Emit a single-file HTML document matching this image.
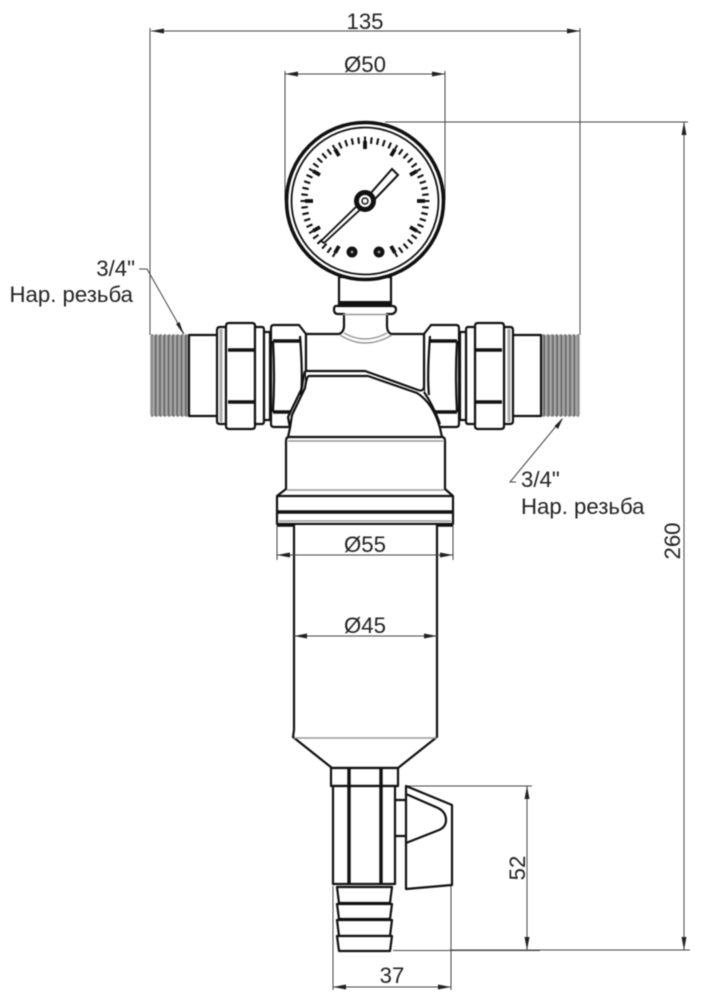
<!DOCTYPE html>
<html><head><meta charset="utf-8"><style>
html,body{margin:0;padding:0;background:#fff}
svg{display:block;filter:blur(.45px)}
text{font-family:"Liberation Sans",sans-serif;font-size:22.2px;fill:#222}
.k{fill:#fff;stroke:#111;stroke-width:2.2;stroke-linejoin:round}
.l{fill:none;stroke:#111;stroke-width:2.2;stroke-linejoin:round}
.t{fill:none;stroke:#111;stroke-width:3.4}
.g{fill:none;stroke:#999;stroke-width:1.4}
.d{fill:none;stroke:#444;stroke-width:1}
.a{fill:#222;stroke:none}
</style></head><body>
<svg width="706" height="1000" viewBox="0 0 706 1000" xmlns="http://www.w3.org/2000/svg">
<defs>
<pattern id="th" width="4.3" height="10" patternUnits="userSpaceOnUse"><rect width="4.3" height="10" fill="#a6a6a6"/><rect x="0" width="1.7" height="10" fill="#666"/></pattern>
<line id="m" x1="365" y1="137" x2="365" y2="143.500" stroke="#111" stroke-width="2.100"/>
<g id="M"><line x1="365" y1="136.500" x2="365" y2="141" stroke="#111" stroke-width="2"/><line x1="365" y1="141" x2="365" y2="149" stroke="#111" stroke-width="3.800"/></g>
<g id="half">
<!-- thread -->
<rect x="151" y="335" width="37" height="81" fill="url(#th)"/>
<path d="M151 335H188M151 416H188" stroke="#777" stroke-width="1.600" stroke-dasharray="2 2.300" fill="none"/>
<path d="M151 336V415" stroke="#999" stroke-width="1.500"/>
<!-- pipe -->
<path class="l" d="M217 335H189V416H217"/>
<!-- washer -->
<path class="k" d="M220 327H226V424H220Q217 424 217 421V330Q217 327 220 327Z"/>
<path d="M221 329V422" stroke="#aaa" stroke-width="3"/>
<!-- union nut -->
<path class="k" d="M229 323H252Q255 323 255 326V426Q255 429 252 429H229Q226 429 226 426V326Q226 323 229 323Z" stroke-width="2.600"/>
<path class="t" d="M228 350H254M228 402H254" stroke-width="3"/>
<path class="k" d="M255 327H262Q264 327 264 330V421Q264 424 262 424H255Z"/>
<path class="k" d="M264 332H270V420H264Z"/>
<!-- second nut -->
<path class="k" d="M274 325H299L306 334V427H274Q271 427 271 424V328Q271 325 274 325Z"/>
<path class="t" d="M273 341H300M273 412H300" stroke-width="2.600"/>
<path d="M273 412H300" stroke="#111" stroke-width="1"/>
<path class="l" d="M273 341Q275 376 273 412" stroke-width="1.800"/>
<path class="l" d="M300 336Q303 376 301 395" stroke-width="1.800"/>
</g>
</defs>

<!-- dimension lines (behind the product) -->
<path class="d" d="M150 28V335M580 28V335M151 31H580M285 71V200M445 71V200M285 74H445M385 122H688M684 122V950M450 950H690M407 786H532M527 786V950M333 886V990M451 886V990M333 987H451"/>
<path class="d" d="M393 950.500H540" stroke-width="1.200"/>
<path class="a" d="M151 31l13-2.500v5zM580 31l-13-2.500v5zM285 74l13-2.500v5zM445 74l-13-2.500v5zM684 122l-2.500 13h5zM684 950l-2.500-13h5zM527 786l-2.500 13h5zM527 950l-2.500-13h5zM333 987l13-2.500v5zM451 987l-13-2.500v5z"/>

<!-- fittings -->
<use href="#half"/>
<use href="#half" transform="matrix(-1 0 0 1 730 0)"/>

<!-- stem -->
<path class="k" d="M339 277V305H391V277Z"/>
<path d="M339 303.500H392" stroke="#111" stroke-width="5"/>
<!-- tee body -->
<path fill="#fff" d="M306 334H424V372H306Z"/>
<path fill="#fff" d="M306 370V388L288 417L290 428L288 437H442L440 428Q430 400 424 391V370Z"/>
<path class="l" d="M306 334H339Q344 332 344 326V314H387V326Q387 332 391 334H424"/>
<path class="k" d="M338 306H392Q396 306 396 309.500T392 314H338Q334 314 334 309.500T338 306Z"/>
<path fill="#fff" d="M345 312H386V318H345Z"/>
<path d="M343 314.500H388" stroke="#999" stroke-width="1.400"/>
<path class="g" d="M340 335Q365 351 392 335"/>
<path class="g" d="M344 333Q365 345 387 333" stroke-width="1"/>
<path class="l" d="M306 334V371M424 334V386"/>
<!-- rib -->
<path class="l" d="M305 371H365L418 390Q424 392 424 386"/>
<path class="l" d="M308 376H368L417 393Q433 403 440 428L442 437"/>
<path class="l" d="M424 392Q433 405 440 424" stroke-width="1.800"/>
<path class="l" d="M305 371Q303 378 302 388L288 417L290 428L288 437"/>
<path class="l" d="M308 376Q306 380 305 388L292 415L290 428" stroke-width="1.800"/>

<!-- upper housing -->
<path class="k" d="M289 437H442Q445 437 445 441V489L453 496V524H277V496L286 489V441Q286 437 289 437Z"/>
<path class="g" d="M288 441H443M287 490H444M279 521H451"/>
<path class="l" d="M277 496H453"/>
<path class="t" d="M277 512H453M277 525H453" stroke-width="2.600"/>

<!-- bowl -->
<path class="k" d="M294 525V730L293 737L332 768H398L437 737L437 730V525"/>
<path class="g" d="M294 738H437"/>

<!-- dimensions over the product -->
<path class="d" d="M277 524V560M453 524V560M277 555H453M294 636H437"/>
<path class="a" d="M277 555l13-2.500v5zM453 555l-13-2.500v5zM294 636l13-2.500v5zM437 636l-13-2.500v5z"/>

<!-- drain nut -->
<rect class="k" x="331" y="768" width="67" height="18"/>
<rect class="k" x="333" y="786" width="62" height="98"/>
<path class="t" d="M349 768V884M381 768V884"/>
<!-- handle -->
<path class="l" d="M395 800H405M395 836H405" />
<path class="k" d="M406 786L452 805V885L406 889Z"/>
<path class="l" d="M406 794L438 808Q446 812 446 820Q446 827 439 830L406 843"/>
<!-- barb -->
<path class="k" d="M337 887H392L390 903H339Z"/>
<path class="k" d="M337 904H392L390 919H339Z"/>
<path class="k" d="M337 920H392L390 936H339Z"/>
<path class="k" d="M337 936H392L390 951H339Z"/>

<!-- gauge -->
<circle cx="365" cy="201" r="78.500" fill="#fff" stroke="#111" stroke-width="3.600"/>
<circle cx="365" cy="201" r="73.500" fill="none" stroke="#111" stroke-width="1.800"/>
<g>
<use href="#M" transform="rotate(-150 365 201)"/><use href="#m" transform="rotate(-144 365 201)"/><use href="#m" transform="rotate(-138 365 201)"/><use href="#m" transform="rotate(-132 365 201)"/><use href="#m" transform="rotate(-126 365 201)"/>
<use href="#M" transform="rotate(-120 365 201)"/><use href="#m" transform="rotate(-114 365 201)"/><use href="#m" transform="rotate(-108 365 201)"/><use href="#m" transform="rotate(-102 365 201)"/><use href="#m" transform="rotate(-96 365 201)"/>
<use href="#M" transform="rotate(-90 365 201)"/><use href="#m" transform="rotate(-84 365 201)"/><use href="#m" transform="rotate(-78 365 201)"/><use href="#m" transform="rotate(-72 365 201)"/><use href="#m" transform="rotate(-66 365 201)"/>
<use href="#M" transform="rotate(-60 365 201)"/><use href="#m" transform="rotate(-54 365 201)"/><use href="#m" transform="rotate(-48 365 201)"/><use href="#m" transform="rotate(-42 365 201)"/><use href="#m" transform="rotate(-36 365 201)"/>
<use href="#M" transform="rotate(-30 365 201)"/><use href="#m" transform="rotate(-24 365 201)"/><use href="#m" transform="rotate(-18 365 201)"/><use href="#m" transform="rotate(-12 365 201)"/><use href="#m" transform="rotate(-6 365 201)"/>
<use href="#M"/><use href="#m" transform="rotate(6 365 201)"/><use href="#m" transform="rotate(12 365 201)"/><use href="#m" transform="rotate(18 365 201)"/><use href="#m" transform="rotate(24 365 201)"/>
<use href="#M" transform="rotate(30 365 201)"/><use href="#m" transform="rotate(36 365 201)"/><use href="#m" transform="rotate(42 365 201)"/><use href="#m" transform="rotate(48 365 201)"/><use href="#m" transform="rotate(54 365 201)"/>
<use href="#M" transform="rotate(60 365 201)"/><use href="#m" transform="rotate(66 365 201)"/><use href="#m" transform="rotate(72 365 201)"/><use href="#m" transform="rotate(78 365 201)"/><use href="#m" transform="rotate(84 365 201)"/>
<use href="#M" transform="rotate(90 365 201)"/><use href="#m" transform="rotate(96 365 201)"/><use href="#m" transform="rotate(102 365 201)"/><use href="#m" transform="rotate(108 365 201)"/><use href="#m" transform="rotate(114 365 201)"/>
<use href="#M" transform="rotate(120 365 201)"/><use href="#m" transform="rotate(126 365 201)"/><use href="#m" transform="rotate(132 365 201)"/><use href="#m" transform="rotate(138 365 201)"/><use href="#m" transform="rotate(144 365 201)"/>
<use href="#M" transform="rotate(150 365 201)"/>
</g>
<!-- needle -->
<path d="M321 241L360 203L363 207L324 243Z" fill="#fff" stroke="#111" stroke-width="1.800"/>
<path d="M370 194L392 169L398 175L375 199Z" fill="#fff" stroke="#111" stroke-width="2"/>
<circle cx="365" cy="201" r="8.500" fill="#fff" stroke="#111" stroke-width="5"/>
<circle cx="365" cy="201" r="3" fill="#fff" stroke="#111" stroke-width="1.400"/>
<circle cx="352" cy="252" r="5.500" fill="#111"/><circle cx="352" cy="252" r="1.400" fill="#999"/>
<circle cx="379" cy="252" r="5.500" fill="#111"/><circle cx="379" cy="252" r="1.400" fill="#999"/>

<!-- leaders -->
<path class="d" d="M139 269H147L184 334"/>
<path class="a" d="M184 335l-8-11 3.500-2z"/>
<path class="d" d="M516 482H510L562 419"/>
<path class="a" d="M563 418l-5 11-3.500-3z"/>

<!-- labels -->
<text x="365" y="29" text-anchor="middle">135</text>
<text x="365" y="72" text-anchor="middle">Ø50</text>
<text x="365" y="552" text-anchor="middle">Ø55</text>
<text x="365" y="633" text-anchor="middle">Ø45</text>
<text x="392" y="983" text-anchor="middle">37</text>
<text transform="translate(680 541) rotate(-90)" text-anchor="middle">260</text>
<text transform="translate(525 868) rotate(-90)" text-anchor="middle">52</text>
<text x="135" y="276" text-anchor="end">3/4"</text>
<text x="133" y="302" text-anchor="end">Нар. резьба</text>
<text x="521" y="487">3/4"</text>
<text x="521" y="514">Нар. резьба</text>
</svg>
</body></html>
